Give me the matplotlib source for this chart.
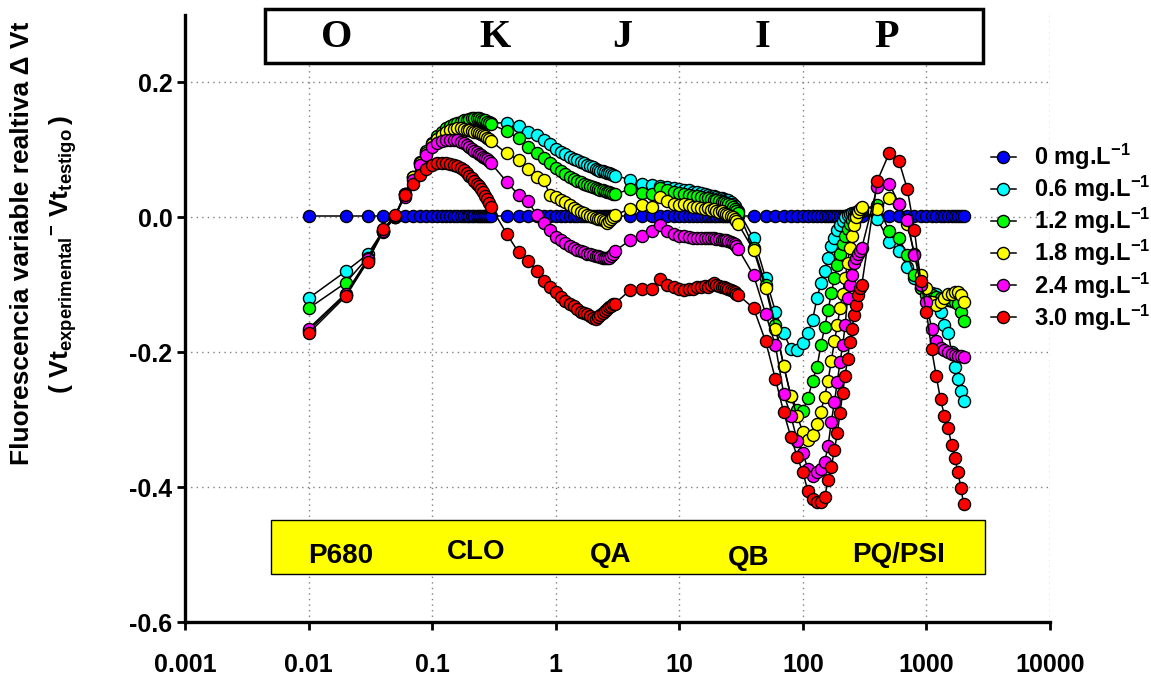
import matplotlib
matplotlib.use('Agg')
import matplotlib.pyplot as plt
from matplotlib.patches import Rectangle
from matplotlib.ticker import NullLocator

plt.rcParams['font.family'] = 'Liberation Sans'
plt.rcParams['font.weight'] = 'bold'
plt.rcParams['mathtext.fontset'] = 'custom'
plt.rcParams['mathtext.rm'] = 'Liberation Sans:bold'
plt.rcParams['mathtext.it'] = 'Liberation Sans:bold'
plt.rcParams['mathtext.bf'] = 'Liberation Sans:bold'
plt.rcParams['mathtext.default'] = 'rm'

# time points (ms)
t_a = [0.01, 0.02, 0.03, 0.04, 0.05, 0.06, 0.07, 0.08, 0.09, 0.10,
       0.11, 0.12, 0.13, 0.14, 0.15, 0.16, 0.17, 0.18, 0.19, 0.20,
       0.21, 0.22, 0.23, 0.24, 0.25, 0.26, 0.27, 0.28, 0.29, 0.30]
t_b = [0.4, 0.5, 0.6, 0.7, 0.8, 0.9, 1.0, 1.1, 1.2, 1.3, 1.4, 1.5, 1.6, 1.7,
       1.8, 1.9, 2.0, 2.1, 2.2, 2.3, 2.4, 2.5, 2.6, 2.7, 2.8, 2.9, 3.0]
t_c = [4, 5, 6, 7, 8, 9, 10, 11, 12, 13, 14, 15, 16, 17, 18, 19, 20,
       21, 22, 23, 24, 25, 26, 27, 28, 29, 30]
t_d = [40, 50, 60, 70, 80, 90, 100, 110, 120, 130, 140, 150, 160, 170,
       180, 190, 200, 210, 220, 230, 240, 250, 260, 270, 280, 290, 300]
t_e = [400, 500, 600, 700, 800, 900, 1000, 1100, 1200, 1300, 1400, 1500,
       1600, 1700, 1800, 1900, 2000]
t = t_a + t_b + t_c + t_d + t_e

# 0 mg/L (reference)
v00 = ([0.002, 0.002, 0.002, 0.002, 0.002, 0.002, 0.002, 0.002, 0.002, 0.002,
        0.002, 0.002, 0.002, 0.002, 0.002, 0.002, 0.002, 0.002, 0.002, 0.002,
        0.002, 0.002, 0.002, 0.002, 0.002, 0.002, 0.002, 0.002, 0.002, 0.002]
       + [0.002, 0.002, 0.002, 0.002, 0.002, 0.002, 0.002, 0.002, 0.002,
          0.002, 0.002, 0.002, 0.002, 0.002, 0.002, 0.002, 0.002, 0.002,
          0.002, 0.002, 0.002, 0.002, 0.002, 0.002, 0.002, 0.002, 0.002]
       + [0.002, 0.002, 0.002, 0.002, 0.002, 0.002, 0.002, 0.002, 0.002,
          0.002, 0.002, 0.002, 0.002, 0.002, 0.002, 0.002, 0.002, 0.002,
          0.002, 0.002, 0.002, 0.002, 0.002, 0.002, 0.002, 0.002, 0.002]
       + [0.002, 0.002, 0.002, 0.002, 0.002, 0.002, 0.002, 0.002, 0.002,
          0.002, 0.002, 0.002, 0.002, 0.002, 0.002, 0.002, 0.002, 0.002,
          0.002, 0.002, 0.002, 0.002, 0.002, 0.002, 0.002, 0.002, 0.002]
       + [0.002, 0.002, 0.002, 0.002, 0.002, 0.002, 0.002, 0.002, 0.002,
          0.002, 0.002, 0.002, 0.002, 0.002, 0.002, 0.002, 0.002])

v06 = ([-0.12, -0.08, -0.055, -0.02, 0.0, 0.035, 0.06, 0.08, 0.095, 0.107,
        0.116, 0.123, 0.128, 0.132, 0.135, 0.137, 0.139, 0.14, 0.141, 0.142,
        0.143, 0.143, 0.143, 0.143, 0.143, 0.142, 0.142, 0.141, 0.141, 0.14]
       + [0.14, 0.135, 0.127, 0.122, 0.115, 0.108, 0.101, 0.097, 0.094, 0.09,
          0.087, 0.085, 0.082, 0.08, 0.077, 0.076, 0.074, 0.072, 0.07, 0.069,
          0.068, 0.067, 0.066, 0.065, 0.064, 0.063, 0.062]
       + [0.056, 0.05, 0.048, 0.047, 0.045, 0.043, 0.042, 0.041, 0.04, 0.038,
          0.037, 0.036, 0.034, 0.033, 0.032, 0.031, 0.03, 0.029, 0.028, 0.027,
          0.026, 0.025, 0.023, 0.02, 0.017, 0.013, 0.01]
       + [-0.031, -0.09, -0.14, -0.172, -0.195, -0.197, -0.187, -0.172,
          -0.152, -0.12, -0.098, -0.08, -0.06, -0.043, -0.03, -0.019, -0.011,
          -0.005, 0.0, 0.003, 0.005, 0.006, 0.007, 0.008, 0.009, 0.009, 0.01]
       + [-0.002, -0.036, -0.05, -0.073, -0.09, -0.105, -0.11, -0.112, -0.113,
          -0.14, -0.16, -0.172, -0.2, -0.222, -0.24, -0.258, -0.272])

v12 = ([-0.135, -0.097, -0.06, -0.02, 0.0, 0.035, 0.06, 0.082, 0.098, 0.11,
        0.12, 0.127, 0.132, 0.135, 0.138, 0.14, 0.142, 0.144, 0.145, 0.146,
        0.147, 0.147, 0.147, 0.147, 0.146, 0.145, 0.144, 0.142, 0.14, 0.138]
       + [0.128, 0.117, 0.105, 0.096, 0.088, 0.08, 0.073, 0.068, 0.064, 0.06,
          0.057, 0.054, 0.052, 0.05, 0.048, 0.046, 0.045, 0.043, 0.042, 0.041,
          0.04, 0.039, 0.038, 0.037, 0.036, 0.035, 0.034]
       + [0.042, 0.036, 0.035, 0.043, 0.04, 0.037, 0.036, 0.034, 0.033, 0.032,
          0.031, 0.03, 0.029, 0.028, 0.027, 0.026, 0.025, 0.024, 0.023, 0.022,
          0.021, 0.02, 0.018, 0.016, 0.013, 0.01, 0.007]
       + [-0.045, -0.1, -0.16, -0.22, -0.265, -0.285, -0.287, -0.268, -0.242,
          -0.222, -0.19, -0.163, -0.138, -0.112, -0.09, -0.07, -0.054, -0.04,
          -0.028, -0.018, -0.01, -0.004, 0.0, 0.004, 0.007, 0.01, 0.012]
       + [0.018, -0.02, -0.031, -0.056, -0.086, -0.105, -0.115, -0.115, -0.118,
          -0.12, -0.12, -0.122, -0.124, -0.126, -0.128, -0.14, -0.153])

v18 = ([-0.168, -0.115, -0.065, -0.022, 0.0, 0.035, 0.06, 0.08, 0.096, 0.108,
        0.116, 0.122, 0.126, 0.129, 0.131, 0.132, 0.132, 0.131, 0.13, 0.129,
        0.128, 0.127, 0.126, 0.125, 0.124, 0.122, 0.12, 0.118, 0.116, 0.113]
       + [0.095, 0.085, 0.071, 0.06, 0.055, 0.033, 0.03, 0.026, 0.022, 0.018,
          0.014, 0.011, 0.008, 0.006, 0.004, 0.002, 0.0, -0.001, -0.002,
          -0.003, -0.004, -0.006, -0.008, -0.006, -0.003, 0.0, 0.003]
       + [0.013, 0.018, 0.016, 0.03, 0.024, 0.02, 0.018, 0.02, 0.018, 0.015,
          0.016, 0.014, 0.012, 0.014, 0.011, 0.012, 0.01, 0.008, 0.009, 0.006,
          0.005, 0.004, 0.002, 0.0, -0.002, -0.005, -0.01]
       + [-0.049, -0.105, -0.165, -0.22, -0.265, -0.295, -0.318, -0.33, -0.322,
          -0.306, -0.288, -0.266, -0.242, -0.213, -0.184, -0.16, -0.135,
          -0.113, -0.09, -0.068, -0.046, -0.028, -0.012, 0.0, 0.008, 0.013,
          0.016]
       + [0.012, 0.028, 0.02, -0.01, -0.055, -0.085, -0.105, -0.125, -0.13,
          -0.125, -0.12, -0.113, -0.113, -0.11, -0.11, -0.115, -0.125])

v24 = ([-0.165, -0.113, -0.062, -0.02, 0.002, 0.03, 0.055, 0.077, 0.093, 0.105,
        0.11, 0.113, 0.115, 0.115, 0.115, 0.114, 0.112, 0.11, 0.107, 0.105,
        0.102, 0.099, 0.097, 0.094, 0.092, 0.09, 0.088, 0.086, 0.083, 0.08]
       + [0.053, 0.033, 0.024, 0.003, -0.009, -0.019, -0.029, -0.034, -0.038,
          -0.042, -0.045, -0.048, -0.05, -0.052, -0.054, -0.055, -0.056,
          -0.057, -0.058, -0.059, -0.06, -0.06, -0.061, -0.061, -0.058,
          -0.054, -0.05]
       + [-0.034, -0.027, -0.021, -0.012, -0.02, -0.024, -0.027, -0.028,
          -0.029, -0.03, -0.03, -0.031, -0.031, -0.03, -0.03, -0.031, -0.032,
          -0.032, -0.033, -0.033, -0.034, -0.035, -0.036, -0.038, -0.04,
          -0.043, -0.047]
       + [-0.086, -0.143, -0.19, -0.262, -0.294, -0.331, -0.35, -0.373, -0.383,
          -0.378, -0.373, -0.363, -0.339, -0.303, -0.274, -0.244, -0.214,
          -0.19, -0.16, -0.12, -0.1, -0.086, -0.068, -0.06, -0.055, -0.05,
          -0.045]
       + [0.045, 0.05, 0.02, -0.004, -0.056, -0.1, -0.125, -0.165, -0.183,
          -0.193, -0.197, -0.2, -0.202, -0.204, -0.205, -0.206, -0.207])

v30 = ([-0.172, -0.117, -0.066, -0.018, 0.003, 0.033, 0.05, 0.063, 0.072,
        0.077, 0.08, 0.081, 0.08, 0.079, 0.078, 0.076, 0.073, 0.07, 0.066,
        0.062, 0.058, 0.054, 0.05, 0.046, 0.042, 0.037, 0.032, 0.027, 0.021,
        0.015]
       + [-0.024, -0.052, -0.065, -0.079, -0.094, -0.103, -0.11, -0.118,
          -0.124, -0.128, -0.132, -0.136, -0.14, -0.142, -0.144, -0.147,
          -0.149, -0.15, -0.148, -0.145, -0.142, -0.139, -0.136, -0.133,
          -0.131, -0.129, -0.128]
       + [-0.108, -0.106, -0.106, -0.092, -0.1, -0.104, -0.106, -0.108, -0.107,
          -0.106, -0.104, -0.103, -0.102, -0.103, -0.101, -0.098, -0.1, -0.102,
          -0.103, -0.104, -0.105, -0.106, -0.108, -0.109, -0.111, -0.113,
          -0.115]
       + [-0.135, -0.184, -0.24, -0.289, -0.326, -0.355, -0.378, -0.406, -0.418,
          -0.422, -0.422, -0.415, -0.39, -0.37, -0.345, -0.32, -0.29, -0.26,
          -0.235, -0.21, -0.185, -0.165, -0.145, -0.13, -0.115, -0.105, -0.1]
       + [0.054, 0.095, 0.083, 0.042, -0.019, -0.095, -0.14, -0.195, -0.235,
          -0.27, -0.294, -0.312, -0.338, -0.357, -0.378, -0.401, -0.425])

labels = [r'0 mg.L$^{-1}$', r'0.6 mg.L$^{-1}$', r'1.2 mg.L$^{-1}$',
          r'1.8 mg.L$^{-1}$', r'2.4 mg.L$^{-1}$', r'3.0 mg.L$^{-1}$']
colors = ['#0000FF', '#00FFFF', '#00FF00', '#FFFF00', '#FF00FF', '#FF0000']
series = [v00, v06, v12, v18, v24, v30]

phases = ['O', 'K', 'J', 'I', 'P']
phase_x = [337, 495, 622, 762, 887]
sites = ['P680', 'CLO', 'QA', 'QB', 'PQ/PSI']
site_x = [341, 476, 611, 749, 899]
site_base = [563, 559, 562, 565, 562]

xticks = [0.001, 0.01, 0.1, 1, 10, 100, 1000, 10000]
xticklabels = ['0.001', '0.01', '0.1', '1', '10', '100', '1000', '10000']
yticks = [-0.6, -0.4, -0.2, 0.0, 0.2]
yticklabels = ['-0.6', '-0.4', '-0.2', '0.0', '0.2']

W, H = 1151, 677
fig = plt.figure(figsize=(W / 100, H / 100), dpi=100)
ax = fig.add_axes([185 / W, 1 - 622 / H, (1050 - 185) / W, (622 - 15) / H])

for y, c, lab in zip(series, colors, labels):
    ax.plot(t, y, '-o', color='black', lw=1.1, ms=8.7, mfc=c, mec='black',
            mew=1.0, label=lab, zorder=3)

ax.set_xscale('log')
ax.set_xlim(0.001, 10000)
ax.set_ylim(-0.6, 0.3)
ax.set_xticks(xticks)
ax.set_xticklabels(xticklabels)
ax.xaxis.set_minor_locator(NullLocator())
ax.set_yticks(yticks)
ax.set_yticklabels(yticklabels)

for s in ['top', 'right']:
    ax.spines[s].set_visible(False)
for s in ['left', 'bottom']:
    ax.spines[s].set_linewidth(2.4)
ax.tick_params(axis='both', direction='out', length=6, width=2, labelsize=18)
ax.tick_params(axis='x', pad=16)
ax.tick_params(axis='y', pad=3)
ax.grid(True, which='major', linestyle=(0, (1, 3)), color='#808080', lw=1)

ax.legend(loc='upper left', bbox_to_anchor=(991 / W, 1 - 142 / H),
          bbox_transform=fig.transFigure, frameon=False, fontsize=17,
          handlelength=1.05, handletextpad=0.75, labelspacing=0.08,
          borderpad=0, borderaxespad=0)

# OKJIP box at top
fig.add_artist(Rectangle((265 / W, 1 - 63 / H), (983 - 265) / W, (63 - 9) / H,
                         transform=fig.transFigure, fc='white', ec='black',
                         lw=2.5, zorder=5))
for p, x in zip(phases, phase_x):
    fig.text(x / W, 1 - 47 / H, p, family='Liberation Serif', weight='bold',
             fontsize=29, ha='center', va='baseline', zorder=6)

# yellow box with sites
fig.add_artist(Rectangle((271 / W, 1 - 574 / H), (985 - 271) / W, (574 - 520) / H,
                         transform=fig.transFigure, fc='#FFFF00', ec='black',
                         lw=1.0, zorder=5))
for s, x, b in zip(sites, site_x, site_base):
    fig.text(x / W, 1 - b / H, s, fontsize=20, ha='center', va='baseline',
             zorder=6)

fig.text(22 / W, 1 - 243 / H, 'Fluorescencia variable realtiva \u0394 Vt',
         rotation=90, ha='center', va='center', fontsize=19)
fig.text(63 / W, 1 - 255 / H,
         r'$(\ \mathrm{Vt}_{\mathrm{experimental}}{}^{-}\ \mathrm{Vt}_{\mathrm{testigo}}\,)$',
         rotation=90, ha='center', va='center', fontsize=19)

fig.savefig('out.png', dpi=100)
